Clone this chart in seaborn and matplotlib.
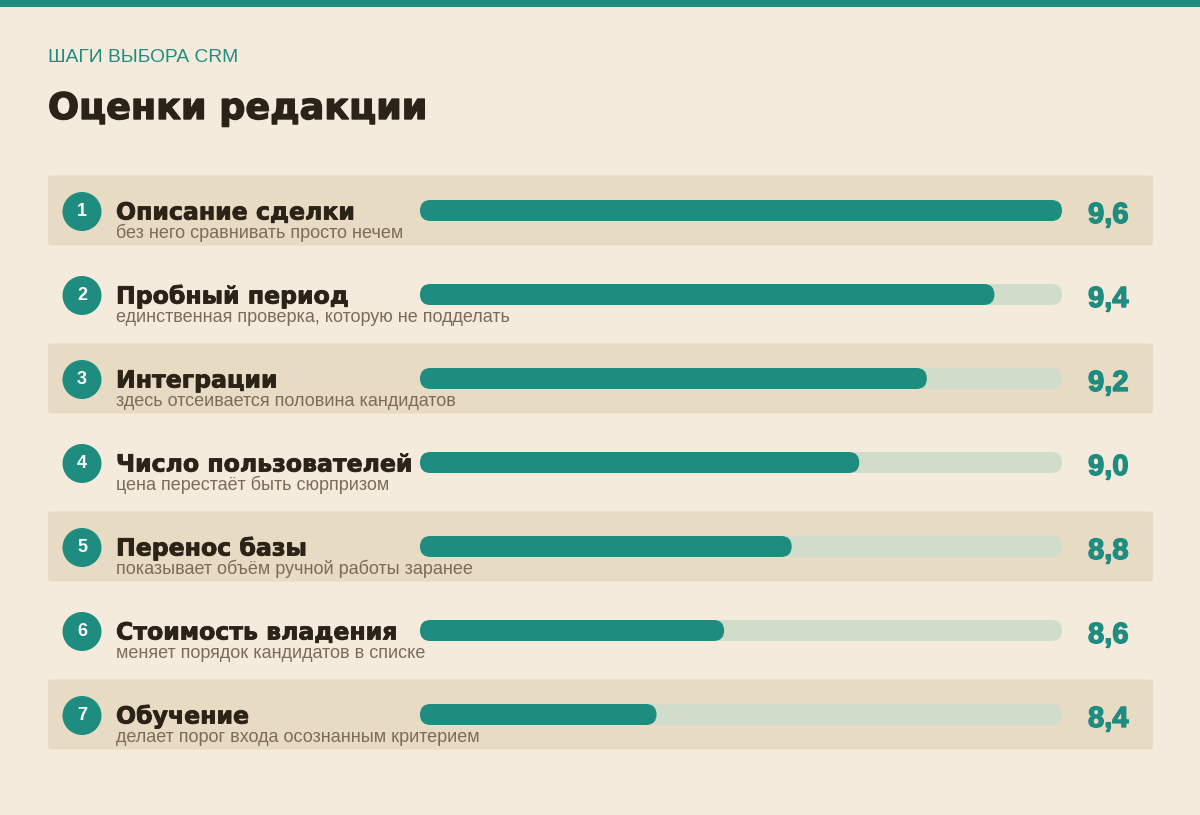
import numpy as np
import pandas as pd
import seaborn as sns
import matplotlib.pyplot as plt
import matplotlib.patheffects as pe
from matplotlib.patches import FancyBboxPatch, Circle, Rectangle


###############################################################################
# data
steps = ["Описание сделки", "Пробный период", "Интеграции", "Число пользователей",
         "Перенос базы", "Стоимость владения", "Обучение"]
notes = ["без него сравнивать просто нечем",
         "единственная проверка, которую не подделать",
         "здесь отсеивается половина кандидатов",
         "цена перестаёт быть сюрпризом",
         "показывает объём ручной работы заранее",
         "меняет порядок кандидатов в списке",
         "делает порог входа осознанным критерием"]
scores = [9.6, 9.4, 9.2, 9.0, 8.8, 8.6, 8.4]
scale_lo, scale_hi = 7.7, 9.6

kicker = "ШАГИ ВЫБОРА CRM"
title = "Оценки редакции"

# colours
BG = "#F4EBDD"
BAND = "#E8DBC4"
TEAL = "#1F8C80"
TRACK = "#D1DDCB"
INK = "#2B2317"
MUTED = "#7B6B59"

df = pd.DataFrame({"step": steps, "score": scores})
df["shifted"] = df["score"] - scale_lo
df["track"] = scale_hi - scale_lo

sns.set_theme(style="white")
plt.rcParams["font.family"] = ["Liberation Sans", "DejaVu Sans"]
HEAVY = ["DejaVu Sans"]   # wide bold face, closest to the heavy headings


def thicken(color, lw):
    return [pe.withStroke(linewidth=lw, foreground=color)]


W, H = 1200, 815
fig = plt.figure(figsize=(W / 100, H / 100), dpi=100, facecolor=BG)

# layout canvas in pixel units
bg = fig.add_axes([0, 0, 1, 1])
bg.set_xlim(0, W)
bg.set_ylim(H, 0)
bg.axis("off")
bg.set_facecolor(BG)

bg.add_patch(Rectangle((0, 0), W, 7, color=TEAL, lw=0))
bg.text(48, 62, kicker, color=TEAL, fontsize=13.8, va="baseline")
bg.text(48, 119, title, color=INK, fontsize=26.3, fontweight="bold", va="baseline",
        family=HEAVY, path_effects=thicken(INK, 1.0))

row0, pitch = 210.5, 84
bar_left, bar_right = 420, 1062

for i, (name, note, val) in enumerate(zip(steps, notes, scores)):
    c = row0 + i * pitch
    if i % 2 == 0:
        bg.add_patch(FancyBboxPatch((48, c - 35), 1105, 70,
                                    boxstyle="round,pad=0,rounding_size=3",
                                    color=BAND, lw=0))
    bg.add_patch(Circle((82, c + 1), 19.5, color=TEAL, lw=0))
    bg.text(82, c + 1.5, str(i + 1), color="white", fontsize=13, fontweight="bold",
            ha="center", va="center")
    bg.text(116, c + 9, name, color=INK, fontsize=17, fontweight="bold",
            va="baseline", family=HEAVY, path_effects=thicken(INK, 0.6))
    bg.text(116, c + 28, note, color=MUTED, fontsize=13, va="baseline")
    bg.text(1088, c + 12.5, f"{val:.1f}".replace(".", ","), color=TEAL,
            fontsize=21, fontweight="bold", va="baseline",
            path_effects=thicken(TEAL, 1.0))

# bar axes
n = len(steps)
top = row0 - pitch / 2
bottom = row0 + (n - 0.5) * pitch
ax = fig.add_axes([bar_left / W, 1 - bottom / H,
                   (bar_right - bar_left) / W, (bottom - top) / H])
sns.barplot(data=df, x="track", y="step", orient="h", width=0.25,
            color=TRACK, saturation=1, ax=ax)
sns.barplot(data=df, x="shifted", y="step", orient="h", width=0.25,
            color=TEAL, saturation=1, ax=ax)
ax.set_xlim(0, scale_hi - scale_lo)
ax.set_ylim(n - 0.5, -0.5)
ax.axis("off")
ax.patch.set_alpha(0)

# round the bar ends
x_per_px = (scale_hi - scale_lo) / (bar_right - bar_left)
y_per_px = n / (bottom - top)
radius_px = 10.5
for p in list(ax.patches):
    x, y, w, h = p.get_x(), p.get_y(), p.get_width(), p.get_height()
    rp = FancyBboxPatch((x, y), w, h,
                        boxstyle=f"round,pad=0,rounding_size={radius_px * x_per_px}",
                        mutation_aspect=y_per_px / x_per_px,
                        facecolor=p.get_facecolor(), lw=0, zorder=p.get_zorder())
    p.remove()
    ax.add_patch(rp)

plt.savefig("out.png", dpi=100, facecolor=BG)
plt.clf()
